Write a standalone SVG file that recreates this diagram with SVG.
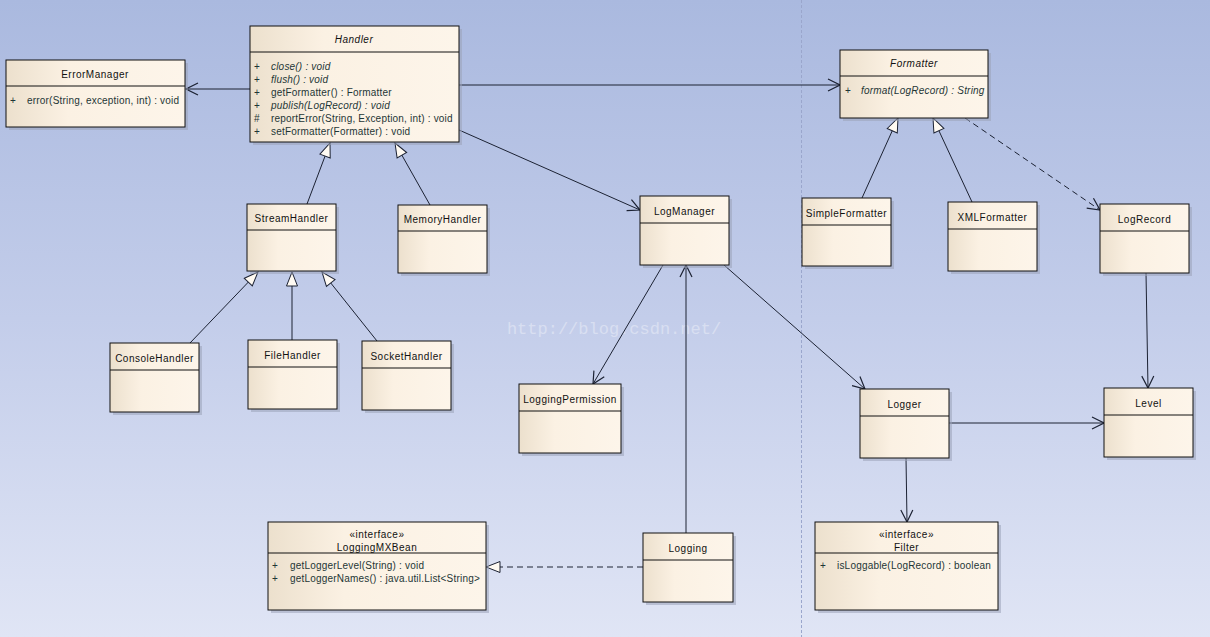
<svg xmlns="http://www.w3.org/2000/svg" width="1210" height="637" viewBox="0 0 1210 637">
<defs>
<linearGradient id="bg" x1="0" y1="0" x2="0" y2="1">
<stop offset="0" stop-color="#aab9df"/>
<stop offset="0.5" stop-color="#c3cdea"/>
<stop offset="1" stop-color="#e0e5f5"/>
</linearGradient>
<linearGradient id="nf" x1="0" y1="0" x2="1" y2="0">
<stop offset="0" stop-color="#ece0cd"/>
<stop offset="0.35" stop-color="#fbf1e3"/>
<stop offset="1" stop-color="#fdf5ea"/>
</linearGradient>
<marker id="open" markerUnits="userSpaceOnUse" markerWidth="14" markerHeight="14" refX="13" refY="6" orient="auto" viewBox="0 0 14 12">
<path d="M1,0 L13,6 L1,12" fill="none" stroke="#1c2233" stroke-width="1.2"/>
</marker>
<marker id="tri" markerUnits="userSpaceOnUse" markerWidth="16" markerHeight="14" refX="15" refY="6" orient="auto" viewBox="0 0 16 12">
<path d="M1,0.5 L15,6 L1,11.5 Z" fill="#fffaf2" stroke="#1c2233" stroke-width="1"/>
</marker>
</defs>
<style>
.sh{fill:#9aa3b8;opacity:0.55}
.box{fill:url(#nf);stroke:#111;stroke-width:1}
.sep{stroke:#111;stroke-width:1}
.t{font-family:"Liberation Sans",Arial,sans-serif;font-size:10px;letter-spacing:0.5px;fill:#111;text-anchor:middle}
.ti{font-style:italic}
.m{font-family:"Liberation Sans",Arial,sans-serif;font-size:10px;letter-spacing:0.2px;fill:#1e3636}
.c{stroke:#1c2233;stroke-width:1;fill:none}
.d{stroke-dasharray:6,4}
</style>
<rect x="0" y="0" width="1210" height="637" fill="url(#bg)"/>
<line x1="801.5" y1="0" x2="801.5" y2="637" stroke="#9aa6cc" stroke-width="1" stroke-dasharray="3,2"/>
<text x="614" y="334" font-family="'Liberation Mono',monospace" font-size="17" fill="#ffffff" opacity="0.35" text-anchor="middle">http://blog.csdn.net/</text>

<g id="connectors">
<line class="c" x1="250" y1="89" x2="186" y2="89" marker-end="url(#open)"/>
<line class="c" x1="459" y1="85" x2="840" y2="85" marker-end="url(#open)"/>
<line class="c" x1="459" y1="130" x2="640" y2="210" marker-end="url(#open)"/>
<line class="c" x1="307" y1="204" x2="330" y2="143" marker-end="url(#tri)"/>
<line class="c" x1="430" y1="205" x2="395" y2="143" marker-end="url(#tri)"/>
<line class="c" x1="190" y1="343" x2="258" y2="272" marker-end="url(#tri)"/>
<line class="c" x1="292" y1="340" x2="292" y2="272" marker-end="url(#tri)"/>
<line class="c" x1="377" y1="341" x2="322" y2="272" marker-end="url(#tri)"/>
<line class="c" x1="862" y1="198" x2="898" y2="118" marker-end="url(#tri)"/>
<line class="c" x1="972" y1="202" x2="933" y2="118" marker-end="url(#tri)"/>
<line class="c d" x1="965" y1="118" x2="1100" y2="210" marker-end="url(#open)"/>
<line class="c" x1="663" y1="265" x2="593" y2="384" marker-end="url(#open)"/>
<line class="c" x1="686" y1="533" x2="686" y2="265" marker-end="url(#open)"/>
<line class="c" x1="724" y1="265" x2="865" y2="389" marker-end="url(#open)"/>
<line class="c" x1="1146" y1="273" x2="1148" y2="388" marker-end="url(#open)"/>
<line class="c" x1="949" y1="423" x2="1104" y2="423" marker-end="url(#open)"/>
<line class="c" x1="906" y1="458" x2="907" y2="522" marker-end="url(#open)"/>
<line class="c d" x1="643" y1="567" x2="486" y2="567" marker-end="url(#tri)"/>
</g>

<g id="ErrorManager">
<rect class="sh" x="9" y="63" width="179" height="67"/>
<rect class="box" x="6" y="60" width="179" height="67"/>
<line class="sep" x1="6" y1="86" x2="185" y2="86"/>
<text class="t" x="95" y="78">ErrorManager</text>
<text class="m" x="10" y="104">+</text><text class="m" x="27" y="104">error(String, exception, int) : void</text>
</g>

<g id="Handler">
<rect class="sh" x="253" y="29" width="209" height="116"/>
<rect class="box" x="250" y="26" width="209" height="116"/>
<line class="sep" x1="250" y1="52" x2="459" y2="52"/>
<text class="t ti" x="354" y="43">Handler</text>
<text class="m" x="254" y="70">+</text><text class="m ti" x="271" y="70">close() : void</text>
<text class="m" x="254" y="83">+</text><text class="m ti" x="271" y="83">flush() : void</text>
<text class="m" x="254" y="96">+</text><text class="m" x="271" y="96">getFormatter() : Formatter</text>
<text class="m" x="254" y="109">+</text><text class="m ti" x="271" y="109">publish(LogRecord) : void</text>
<text class="m" x="254" y="122">#</text><text class="m" x="271" y="122">reportError(String, Exception, int) : void</text>
<text class="m" x="254" y="135">+</text><text class="m" x="271" y="135">setFormatter(Formatter) : void</text>
</g>

<g id="Formatter">
<rect class="sh" x="843" y="53" width="148" height="68"/>
<rect class="box" x="840" y="50" width="148" height="68"/>
<line class="sep" x1="840" y1="76" x2="988" y2="76"/>
<text class="t ti" x="914" y="67">Formatter</text>
<text class="m" x="845" y="94">+</text><text class="m ti" x="861" y="94" letter-spacing="0">format(LogRecord) : String</text>
</g>

<g id="StreamHandler">
<rect class="sh" x="250" y="207" width="89" height="67"/>
<rect class="box" x="247" y="204" width="89" height="67"/>
<line class="sep" x1="247" y1="230" x2="336" y2="230"/>
<text class="t" x="291.5" y="222">StreamHandler</text>
</g>

<g id="MemoryHandler">
<rect class="sh" x="401" y="208" width="89" height="68"/>
<rect class="box" x="398" y="205" width="89" height="68"/>
<line class="sep" x1="398" y1="231" x2="487" y2="231"/>
<text class="t" x="442.5" y="223">MemoryHandler</text>
</g>

<g id="ConsoleHandler">
<rect class="sh" x="113" y="346" width="89" height="69"/>
<rect class="box" x="110" y="343" width="89" height="69"/>
<line class="sep" x1="110" y1="370" x2="199" y2="370"/>
<text class="t" x="154.5" y="362">ConsoleHandler</text>
</g>

<g id="FileHandler">
<rect class="sh" x="251" y="343" width="89" height="69"/>
<rect class="box" x="248" y="340" width="89" height="69"/>
<line class="sep" x1="248" y1="367" x2="337" y2="367"/>
<text class="t" x="292.5" y="359">FileHandler</text>
</g>

<g id="SocketHandler">
<rect class="sh" x="365" y="344" width="89" height="69"/>
<rect class="box" x="362" y="341" width="89" height="69"/>
<line class="sep" x1="362" y1="368" x2="451" y2="368"/>
<text class="t" x="406.5" y="360">SocketHandler</text>
</g>

<g id="LogManager">
<rect class="sh" x="643" y="199" width="89" height="69"/>
<rect class="box" x="640" y="196" width="89" height="69"/>
<line class="sep" x1="640" y1="223" x2="729" y2="223"/>
<text class="t" x="684.5" y="215">LogManager</text>
</g>

<g id="LoggingPermission">
<rect class="sh" x="522" y="387" width="102" height="69"/>
<rect class="box" x="519" y="384" width="102" height="69"/>
<line class="sep" x1="519" y1="411" x2="621" y2="411"/>
<text class="t" x="570" y="403">LoggingPermission</text>
</g>

<g id="SimpleFormatter">
<rect class="sh" x="805" y="201" width="89" height="68"/>
<rect class="box" x="802" y="198" width="89" height="68"/>
<line class="sep" x1="802" y1="225" x2="891" y2="225"/>
<text class="t" x="846.5" y="217">SimpleFormatter</text>
</g>

<g id="XMLFormatter">
<rect class="sh" x="951" y="205" width="89" height="69"/>
<rect class="box" x="948" y="202" width="89" height="69"/>
<line class="sep" x1="948" y1="229" x2="1037" y2="229"/>
<text class="t" x="992.5" y="221">XMLFormatter</text>
</g>

<g id="LogRecord">
<rect class="sh" x="1103" y="207" width="89" height="69"/>
<rect class="box" x="1100" y="204" width="89" height="69"/>
<line class="sep" x1="1100" y1="231" x2="1189" y2="231"/>
<text class="t" x="1144.5" y="223">LogRecord</text>
</g>

<g id="Logger">
<rect class="sh" x="863" y="392" width="89" height="69"/>
<rect class="box" x="860" y="389" width="89" height="69"/>
<line class="sep" x1="860" y1="416" x2="949" y2="416"/>
<text class="t" x="904.5" y="408">Logger</text>
</g>

<g id="Level">
<rect class="sh" x="1107" y="391" width="89" height="69"/>
<rect class="box" x="1104" y="388" width="89" height="69"/>
<line class="sep" x1="1104" y1="415" x2="1193" y2="415"/>
<text class="t" x="1148.5" y="407">Level</text>
</g>

<g id="LoggingMXBean">
<rect class="sh" x="271" y="525" width="218" height="88"/>
<rect class="box" x="268" y="522" width="218" height="88"/>
<line class="sep" x1="268" y1="553" x2="486" y2="553"/>
<text class="t" x="377" y="538" font-size="9.5">«interface»</text>
<text class="t" x="377" y="551">LoggingMXBean</text>
<text class="m" x="272" y="569">+</text><text class="m" x="290" y="569">getLoggerLevel(String) : void</text>
<text class="m" x="272" y="582">+</text><text class="m" x="290" y="582">getLoggerNames() : java.util.List&lt;String&gt;</text>
</g>

<g id="Logging">
<rect class="sh" x="646" y="536" width="90" height="69"/>
<rect class="box" x="643" y="533" width="90" height="69"/>
<line class="sep" x1="643" y1="560" x2="733" y2="560"/>
<text class="t" x="688" y="552">Logging</text>
</g>

<g id="Filter">
<rect class="sh" x="818" y="525" width="183" height="88"/>
<rect class="box" x="815" y="522" width="183" height="88"/>
<line class="sep" x1="815" y1="553" x2="998" y2="553"/>
<text class="t" x="906.5" y="538" font-size="9.5">«interface»</text>
<text class="t" x="906.5" y="551">Filter</text>
<text class="m" x="820" y="569">+</text><text class="m" x="837" y="569">isLoggable(LogRecord) : boolean</text>
</g>
</svg>
